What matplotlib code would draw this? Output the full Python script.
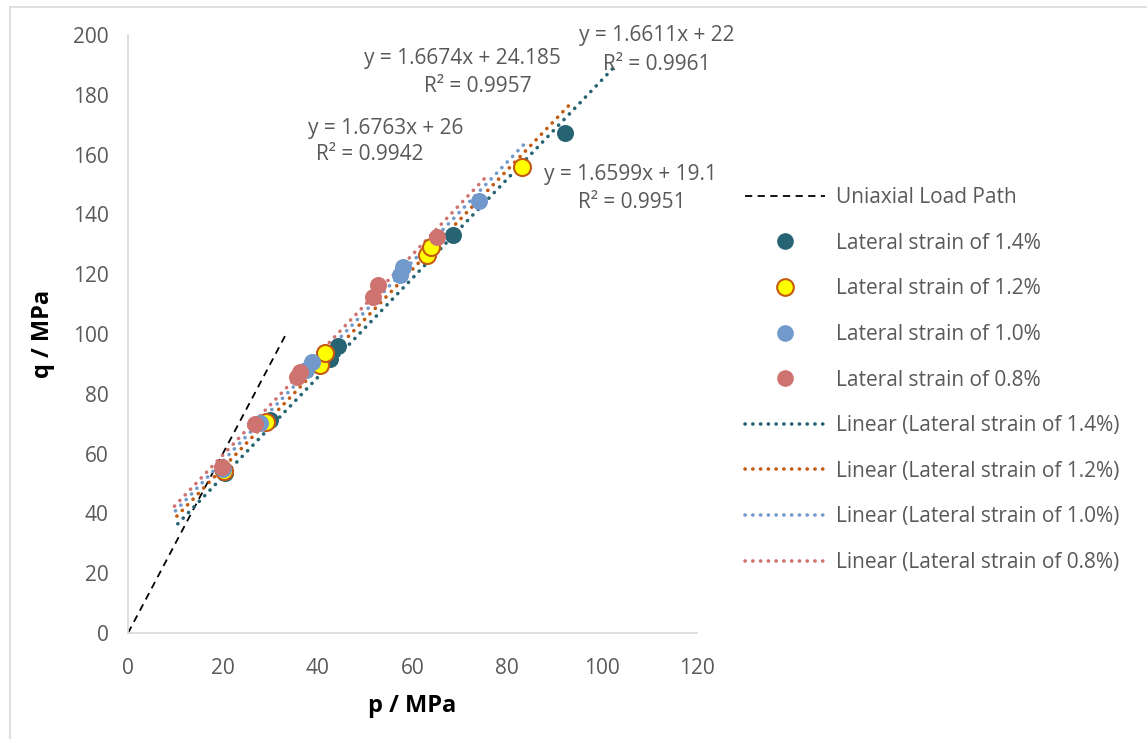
import matplotlib

matplotlib.use("Agg")
import matplotlib.pyplot as plt
from matplotlib.lines import Line2D
import numpy as np

plt.rcParams["font.family"] = ["Open Sans", "DejaVu Sans"]

# ---- data -------------------------------------------------------------------
uniaxial_p = [0.0, 33.4]
uniaxial_q = [0.0, 100.2]

p_14 = [20.5, 30.0, 42.6, 44.3, 68.5, 92.2]
q_14 = [53.5, 71.2, 91.6, 96.0, 133.1, 167.2]

p_12 = [20.3, 29.0, 40.5, 41.5, 63.0, 63.9, 83.1]
q_12 = [54.2, 70.6, 89.6, 93.6, 126.4, 129.1, 155.9]

p_10 = [20.0, 27.8, 37.5, 38.8, 57.4, 58.0, 74.0]
q_10 = [55.0, 70.3, 88.0, 90.6, 119.7, 122.4, 144.5]

p_08 = [19.8, 26.8, 35.6, 36.2, 51.7, 52.7, 65.2]
q_08 = [55.5, 69.9, 85.6, 87.3, 112.4, 116.4, 132.4]

series_labels = ["Lateral strain of 1.4%", "Lateral strain of 1.2%",
                 "Lateral strain of 1.0%", "Lateral strain of 0.8%"]
trend_slope = [1.6599, 1.6611, 1.6674, 1.6763]
trend_intercept = [19.1, 22.0, 24.185, 26.0]
trend_r2 = [0.9951, 0.9961, 0.9957, 0.9942]
FORECAST = 10  # trendline forecast both ways

# ---- styles -------------------------------------------------------------------
TEAL = "#266473"
ORANGE = "#C55A11"
BLUE = "#7199CB"
PINK = "#CF7370"
GREY_TXT = "#595959"
face = [TEAL, "#FFFF00", BLUE, PINK]
edge = [TEAL, ORANGE, BLUE, PINK]
line_col = [TEAL, ORANGE, BLUE, PINK]
DOTS = (0, (0.05, 2.1))

fig = plt.figure(figsize=(11.47, 7.39), dpi=100)
ax = fig.add_axes([0.1116, 0.1434, 0.4961, 0.8092])

ax.plot(uniaxial_p, uniaxial_q, color="black", lw=1.3, ls=(0, (4, 3)), zorder=2)

pts = [(p_14, q_14), (p_12, q_12), (p_10, q_10), (p_08, q_08)]
for i, (p, q) in enumerate(pts):
    lw = 1.5 if i == 1 else 0
    ax.scatter(p, q, s=150, facecolor=face[i], edgecolor=edge[i], linewidth=lw, zorder=4 + i)

for i, (p, q) in enumerate(pts):
    x = np.array([min(p) - FORECAST, max(p) + FORECAST])
    ax.plot(x, trend_slope[i] * x + trend_intercept[i], color=line_col[i], lw=2.6,
            ls=DOTS, dash_capstyle="round", zorder=3)

# trendline labels (placed where Excel left them)
eq_pos = [(106.0, 153.3), (111.6, 200.0), (70.6, 192.3), (54.4, 168.9)]
r2_pos = [(106.3, 144.1), (111.6, 190.3), (73.8, 182.9), (51.0, 159.9)]
for i in range(4):
    ax.text(*eq_pos[i], f"y = {trend_slope[i]:g}x + {trend_intercept[i]:g}", ha="center",
            va="center", fontsize=15, color=GREY_TXT, clip_on=False)
    ax.text(*r2_pos[i], f"R² = {trend_r2[i]:g}", ha="center", va="center",
            fontsize=15, color=GREY_TXT, clip_on=False)

ax.set_xlim(0, 120)
ax.set_ylim(0, 200)
ax.set_xticks(range(0, 121, 20))
ax.set_yticks(range(0, 201, 20))
ax.tick_params(length=0, labelsize=15, labelcolor=GREY_TXT)
ax.tick_params(axis="y", pad=14)
ax.tick_params(axis="x", pad=18)
for s in ("top", "right"):
    ax.spines[s].set_visible(False)
for s in ("left", "bottom"):
    ax.spines[s].set_color("#D9D9D9")
    ax.spines[s].set_linewidth(1.2)
ax.set_xlabel("p / MPa", fontsize=17, fontweight="bold", labelpad=11)
ax.set_ylabel("q / MPa", fontsize=17, fontweight="bold", labelpad=13)

# legend
handles = [Line2D([], [], color="black", lw=1.3, ls=(0, (4, 3)))]
for i in range(4):
    handles.append(Line2D([], [], ls="none", marker="o", markersize=12,
                          markerfacecolor=face[i], markeredgecolor=edge[i],
                          markeredgewidth=1.5 if i == 1 else 0))
for i in range(4):
    handles.append(Line2D([], [], color=line_col[i], lw=2.6, ls=DOTS, dash_capstyle="round"))
labels = ["Uniaxial Load Path"] + series_labels + [f"Linear ({s})" for s in series_labels]
leg = fig.legend(handles, labels, loc="upper left", bbox_to_anchor=(0.642, 0.758),
                 frameon=False, fontsize=15, handlelength=3.85, handletextpad=0.53,
                 labelspacing=1.18, borderaxespad=0)
for t in leg.get_texts():
    t.set_color(GREY_TXT)

# chart-area border
fig.add_artist(Line2D([10 / 1147, 10 / 1147], [0, 1 - 7 / 739], color="#D9D9D9", lw=1.2))
fig.add_artist(Line2D([10 / 1147, 1], [1 - 7 / 739, 1 - 7 / 739], color="#D9D9D9", lw=1.2))

fig.savefig("out.png", dpi=100)
